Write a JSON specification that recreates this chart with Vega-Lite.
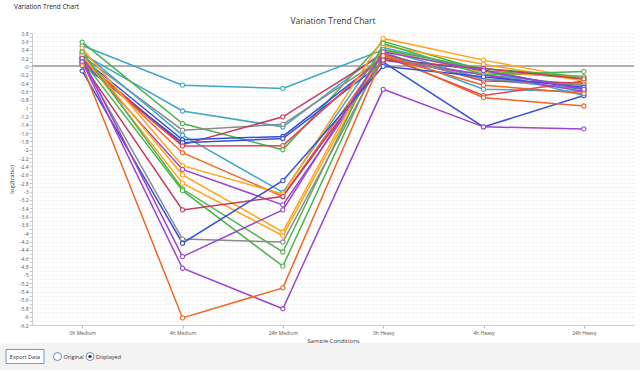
{
  "$schema": "https://vega.github.io/schema/vega-lite/v6.json",
  "padding": {"top": 4, "left": 0, "right": 0, "bottom": 0},
  "spacing": 0,
  "columns": 1,
  "background": "#ffffff",
  "config": {"font": "Open Sans", "view": {"stroke": null}},
  "title": {"text": "Variation Trend Chart", "anchor": "start", "fontSize": 6.5, "fontWeight": "normal", "color": "#222", "dx": 14, "offset": 6, "frame": "bounds"},
  "datasets": {
    "trend": [
      {"series": "S1", "condition": "0h Medium", "value": 0.5}, {"series": "S1", "condition": "4h Medium", "value": -0.45}, {"series": "S1", "condition": "24h Medium", "value": -0.53}, {"series": "S1", "condition": "0h Heavy", "value": 0.4}, {"series": "S1", "condition": "4h Heavy", "value": -0.3}, {"series": "S1", "condition": "24h Heavy", "value": -0.55},
      {"series": "S2", "condition": "0h Medium", "value": 0.3}, {"series": "S2", "condition": "4h Medium", "value": -1.07}, {"series": "S2", "condition": "24h Medium", "value": -1.45}, {"series": "S2", "condition": "0h Heavy", "value": 0.35}, {"series": "S2", "condition": "4h Heavy", "value": -0.55}, {"series": "S2", "condition": "24h Heavy", "value": -0.6},
      {"series": "S3", "condition": "0h Medium", "value": 0.58}, {"series": "S3", "condition": "4h Medium", "value": -1.37}, {"series": "S3", "condition": "24h Medium", "value": -2.0}, {"series": "S3", "condition": "0h Heavy", "value": 0.6}, {"series": "S3", "condition": "4h Heavy", "value": -0.1}, {"series": "S3", "condition": "24h Heavy", "value": -0.3},
      {"series": "S4", "condition": "0h Medium", "value": 0.25}, {"series": "S4", "condition": "4h Medium", "value": -1.53}, {"series": "S4", "condition": "24h Medium", "value": -1.39}, {"series": "S4", "condition": "0h Heavy", "value": 0.2}, {"series": "S4", "condition": "4h Heavy", "value": -0.2}, {"series": "S4", "condition": "24h Heavy", "value": -0.45},
      {"series": "S5", "condition": "0h Medium", "value": 0.15}, {"series": "S5", "condition": "4h Medium", "value": -1.88}, {"series": "S5", "condition": "24h Medium", "value": -1.21}, {"series": "S5", "condition": "0h Heavy", "value": 0.3}, {"series": "S5", "condition": "4h Heavy", "value": -0.35}, {"series": "S5", "condition": "24h Heavy", "value": -0.4},
      {"series": "S6", "condition": "0h Medium", "value": 0.35}, {"series": "S6", "condition": "4h Medium", "value": -1.65}, {"series": "S6", "condition": "24h Medium", "value": -3.02}, {"series": "S6", "condition": "0h Heavy", "value": 0.45}, {"series": "S6", "condition": "4h Heavy", "value": -0.1}, {"series": "S6", "condition": "24h Heavy", "value": -0.7},
      {"series": "S7", "condition": "0h Medium", "value": 0.2}, {"series": "S7", "condition": "4h Medium", "value": -1.76}, {"series": "S7", "condition": "24h Medium", "value": -1.68}, {"series": "S7", "condition": "0h Heavy", "value": 0.2}, {"series": "S7", "condition": "4h Heavy", "value": -0.1}, {"series": "S7", "condition": "24h Heavy", "value": -0.55},
      {"series": "S8", "condition": "0h Medium", "value": 0.05}, {"series": "S8", "condition": "4h Medium", "value": -1.83}, {"series": "S8", "condition": "24h Medium", "value": -1.73}, {"series": "S8", "condition": "0h Heavy", "value": 0.1}, {"series": "S8", "condition": "4h Heavy", "value": -1.45}, {"series": "S8", "condition": "24h Heavy", "value": -0.7},
      {"series": "S9", "condition": "0h Medium", "value": 0.1}, {"series": "S9", "condition": "4h Medium", "value": -1.91}, {"series": "S9", "condition": "24h Medium", "value": -1.9}, {"series": "S9", "condition": "0h Heavy", "value": 0.25}, {"series": "S9", "condition": "4h Heavy", "value": -0.7}, {"series": "S9", "condition": "24h Heavy", "value": -0.35},
      {"series": "S10", "condition": "0h Medium", "value": 0.2}, {"series": "S10", "condition": "4h Medium", "value": -2.07}, {"series": "S10", "condition": "24h Medium", "value": -3.12}, {"series": "S10", "condition": "0h Heavy", "value": 0.3}, {"series": "S10", "condition": "4h Heavy", "value": -0.75}, {"series": "S10", "condition": "24h Heavy", "value": -0.95},
      {"series": "S11", "condition": "0h Medium", "value": 0.43}, {"series": "S11", "condition": "4h Medium", "value": -2.38}, {"series": "S11", "condition": "24h Medium", "value": -3.06}, {"series": "S11", "condition": "0h Heavy", "value": 0.67}, {"series": "S11", "condition": "4h Heavy", "value": 0.15}, {"series": "S11", "condition": "24h Heavy", "value": -0.3},
      {"series": "S12", "condition": "0h Medium", "value": 0.19}, {"series": "S12", "condition": "4h Medium", "value": -2.47}, {"series": "S12", "condition": "24h Medium", "value": -3.32}, {"series": "S12", "condition": "0h Heavy", "value": 0.15}, {"series": "S12", "condition": "4h Heavy", "value": -0.2}, {"series": "S12", "condition": "24h Heavy", "value": -0.6},
      {"series": "S13", "condition": "0h Medium", "value": 0.31}, {"series": "S13", "condition": "4h Medium", "value": -2.6}, {"series": "S13", "condition": "24h Medium", "value": -3.97}, {"series": "S13", "condition": "0h Heavy", "value": 0.5}, {"series": "S13", "condition": "4h Heavy", "value": 0.05}, {"series": "S13", "condition": "24h Heavy", "value": -0.35},
      {"series": "S14", "condition": "0h Medium", "value": 0.27}, {"series": "S14", "condition": "4h Medium", "value": -2.8}, {"series": "S14", "condition": "24h Medium", "value": -4.06}, {"series": "S14", "condition": "0h Heavy", "value": 0.4}, {"series": "S14", "condition": "4h Heavy", "value": -0.15}, {"series": "S14", "condition": "24h Heavy", "value": -0.25},
      {"series": "S15", "condition": "0h Medium", "value": 0.35}, {"series": "S15", "condition": "4h Medium", "value": -2.94}, {"series": "S15", "condition": "24h Medium", "value": -4.45}, {"series": "S15", "condition": "0h Heavy", "value": 0.55}, {"series": "S15", "condition": "4h Heavy", "value": -0.2}, {"series": "S15", "condition": "24h Heavy", "value": -0.12},
      {"series": "S16", "condition": "0h Medium", "value": 0.15}, {"series": "S16", "condition": "4h Medium", "value": -2.98}, {"series": "S16", "condition": "24h Medium", "value": -4.79}, {"series": "S16", "condition": "0h Heavy", "value": 0.4}, {"series": "S16", "condition": "4h Heavy", "value": -0.05}, {"series": "S16", "condition": "24h Heavy", "value": -0.25},
      {"series": "S17", "condition": "0h Medium", "value": 0.07}, {"series": "S17", "condition": "4h Medium", "value": -3.44}, {"series": "S17", "condition": "24h Medium", "value": -3.12}, {"series": "S17", "condition": "0h Heavy", "value": 0.15}, {"series": "S17", "condition": "4h Heavy", "value": -0.05}, {"series": "S17", "condition": "24h Heavy", "value": -0.3},
      {"series": "S18", "condition": "0h Medium", "value": 0.11}, {"series": "S18", "condition": "4h Medium", "value": -4.14}, {"series": "S18", "condition": "24h Medium", "value": -4.21}, {"series": "S18", "condition": "0h Heavy", "value": 0.25}, {"series": "S18", "condition": "4h Heavy", "value": -0.3}, {"series": "S18", "condition": "24h Heavy", "value": -0.45},
      {"series": "S19", "condition": "0h Medium", "value": -0.11}, {"series": "S19", "condition": "4h Medium", "value": -4.24}, {"series": "S19", "condition": "24h Medium", "value": -2.74}, {"series": "S19", "condition": "0h Heavy", "value": 0.0}, {"series": "S19", "condition": "4h Heavy", "value": -0.25}, {"series": "S19", "condition": "24h Heavy", "value": -0.5},
      {"series": "S20", "condition": "0h Medium", "value": 0.19}, {"series": "S20", "condition": "4h Medium", "value": -4.56}, {"series": "S20", "condition": "24h Medium", "value": -3.44}, {"series": "S20", "condition": "0h Heavy", "value": 0.35}, {"series": "S20", "condition": "4h Heavy", "value": -0.1}, {"series": "S20", "condition": "24h Heavy", "value": -0.55},
      {"series": "S21", "condition": "0h Medium", "value": 0.11}, {"series": "S21", "condition": "4h Medium", "value": -4.84}, {"series": "S21", "condition": "24h Medium", "value": -5.81}, {"series": "S21", "condition": "0h Heavy", "value": -0.55}, {"series": "S21", "condition": "4h Heavy", "value": -1.45}, {"series": "S21", "condition": "24h Heavy", "value": -1.5},
      {"series": "S22", "condition": "0h Medium", "value": 0.02}, {"series": "S22", "condition": "4h Medium", "value": -6.03}, {"series": "S22", "condition": "24h Medium", "value": -5.31}, {"series": "S22", "condition": "0h Heavy", "value": 0.25}, {"series": "S22", "condition": "4h Heavy", "value": -0.45}, {"series": "S22", "condition": "24h Heavy", "value": -0.65}
    ],
    "controls": [
      {"control": "Export Data", "kind": "button", "checked": false},
      {"control": "Original", "kind": "radio", "checked": false},
      {"control": "Displayed", "kind": "radio", "checked": true}
    ]
  },
  "concat": [
    {
      "width": 602,
      "height": 292,
      "title": {"text": "Variation Trend Chart", "fontSize": 8.5, "fontWeight": "normal", "color": "#333", "offset": 6},
      "data": {"name": "trend"},
      "encoding": {
        "x": {"field": "condition", "type": "nominal", "sort": ["0h Medium", "4h Medium", "24h Medium", "0h Heavy", "4h Heavy", "24h Heavy"],
              "scale": {"type": "point", "padding": 0.5},
              "axis": {"title": "Sample Conditions", "titleFontSize": 6, "titleFontWeight": "normal", "titleColor": "#333", "titlePadding": 2, "labelFontSize": 5, "labelColor": "#555", "labelAngle": 0, "labelPadding": 2, "tickSize": 3, "tickColor": "#bbb", "domainColor": "#ccc", "grid": false}},
        "y": {"field": "value", "type": "quantitative",
              "scale": {"domain": [-6.2, 0.8], "nice": false, "zero": false},
              "axis": {"title": ["", "log2(ratio)"], "titleFontSize": 6, "titleLineHeight": 8, "titleFontWeight": "normal", "titleColor": "#333", "titlePadding": 0,
                       "minExtent": 18, "maxExtent": 18, "tickCount": 70, "labelFontSize": 5, "labelColor": "#555", "labelPadding": 1, "tickSize": 3, "tickColor": "#ccc",
                       "labelExpr": "abs(round(datum.value*10)) % 2 == 0 ? (abs(datum.value) < 1e-9 ? '-0' : replace(format(datum.value, '~g'), '\u2212', '-')) : ''",
                       "domainColor": "#ccc", "gridColor": "#e4e4e4", "gridDash": [2, 2], "gridWidth": 0.7}},
        "color": {"field": "series", "type": "nominal", "legend": null,
                  "scale": {"domain": ["S1","S2","S3","S4","S5","S6","S7","S8","S9","S10","S11","S12","S13","S14","S15","S16","S17","S18","S19","S20","S21","S22"],
                            "range": ["#3FA6C8","#3FA6C8","#4DB34D","#8A8A8A","#C63A5E","#3FA6C8","#3550D4","#3550D4","#E04850","#F26522","#FFA41C","#9A44D0","#FFA41C","#FFA41C","#4DB34D","#4DB34D","#C63A5E","#8A8A8A","#3550D4","#9A44D0","#9A44D0","#F26522"]}}
      },
      "layer": [
        {"mark": {"type": "rule", "color": "#b0b0b0", "strokeWidth": 1}, "encoding": {"y": {"datum": 0}, "x": null, "color": null}},
        {"mark": {"type": "line", "strokeWidth": 1.5}},
        {"mark": {"type": "point", "filled": true, "fill": "#ffffff", "size": 18, "strokeWidth": 1.1, "opacity": 1}, "encoding": {"stroke": {"field": "series", "type": "nominal", "legend": null, "scale": {"domain": ["S1","S2","S3","S4","S5","S6","S7","S8","S9","S10","S11","S12","S13","S14","S15","S16","S17","S18","S19","S20","S21","S22"],
                            "range": ["#3FA6C8","#3FA6C8","#4DB34D","#8A8A8A","#C63A5E","#3FA6C8","#3550D4","#3550D4","#E04850","#F26522","#FFA41C","#9A44D0","#FFA41C","#FFA41C","#4DB34D","#4DB34D","#C63A5E","#8A8A8A","#3550D4","#9A44D0","#9A44D0","#F26522"]}}}}
      ]
    },
    {
      "width": 608,
      "height": 27,
      "view": {"fill": "#f3f3f3", "stroke": null},
      "data": {"name": "controls"},
      "encoding": {
        "x": {"field": "control", "type": "nominal", "sort": ["Export Data", "Original", "Displayed"], "scale": {"type": "point", "range": [-7, 58], "padding": 0}, "axis": null},
        "y": {"datum": "strip", "type": "nominal", "axis": {"title": null, "labels": false, "ticks": false, "domainWidth": 68, "domainColor": "#f3f3f3", "zindex": 0, "minExtent": 0, "maxExtent": 0}}
      },
      "layer": [
        {"transform": [{"filter": "datum.kind == 'button'"}], "mark": {"type": "point", "shape": "M-1,-0.37H1V0.37H-1Z", "size": 1444, "filled": true, "fill": "#fdfdfd", "stroke": "#3a86d0", "strokeWidth": 0.8, "opacity": 1}},
        {"transform": [{"filter": "datum.kind == 'button'"}], "mark": {"type": "text", "fontSize": 5.5, "color": "#333"}, "encoding": {"text": {"field": "control"}}},
        {"transform": [{"filter": "datum.kind == 'radio'"}], "mark": {"type": "point", "shape": "circle", "size": 64, "filled": true, "fill": "#ffffff", "stroke": "#4a6fa5", "strokeWidth": 0.8, "opacity": 1}},
        {"transform": [{"filter": "datum.checked"}], "mark": {"type": "point", "shape": "circle", "size": 10, "filled": true, "color": "#222", "opacity": 1}},
        {"transform": [{"filter": "datum.kind == 'radio'"}], "mark": {"type": "text", "align": "left", "dx": 6, "fontSize": 5.5, "color": "#333"}, "encoding": {"text": {"field": "control"}}}
      ]
    }
  ]
}
